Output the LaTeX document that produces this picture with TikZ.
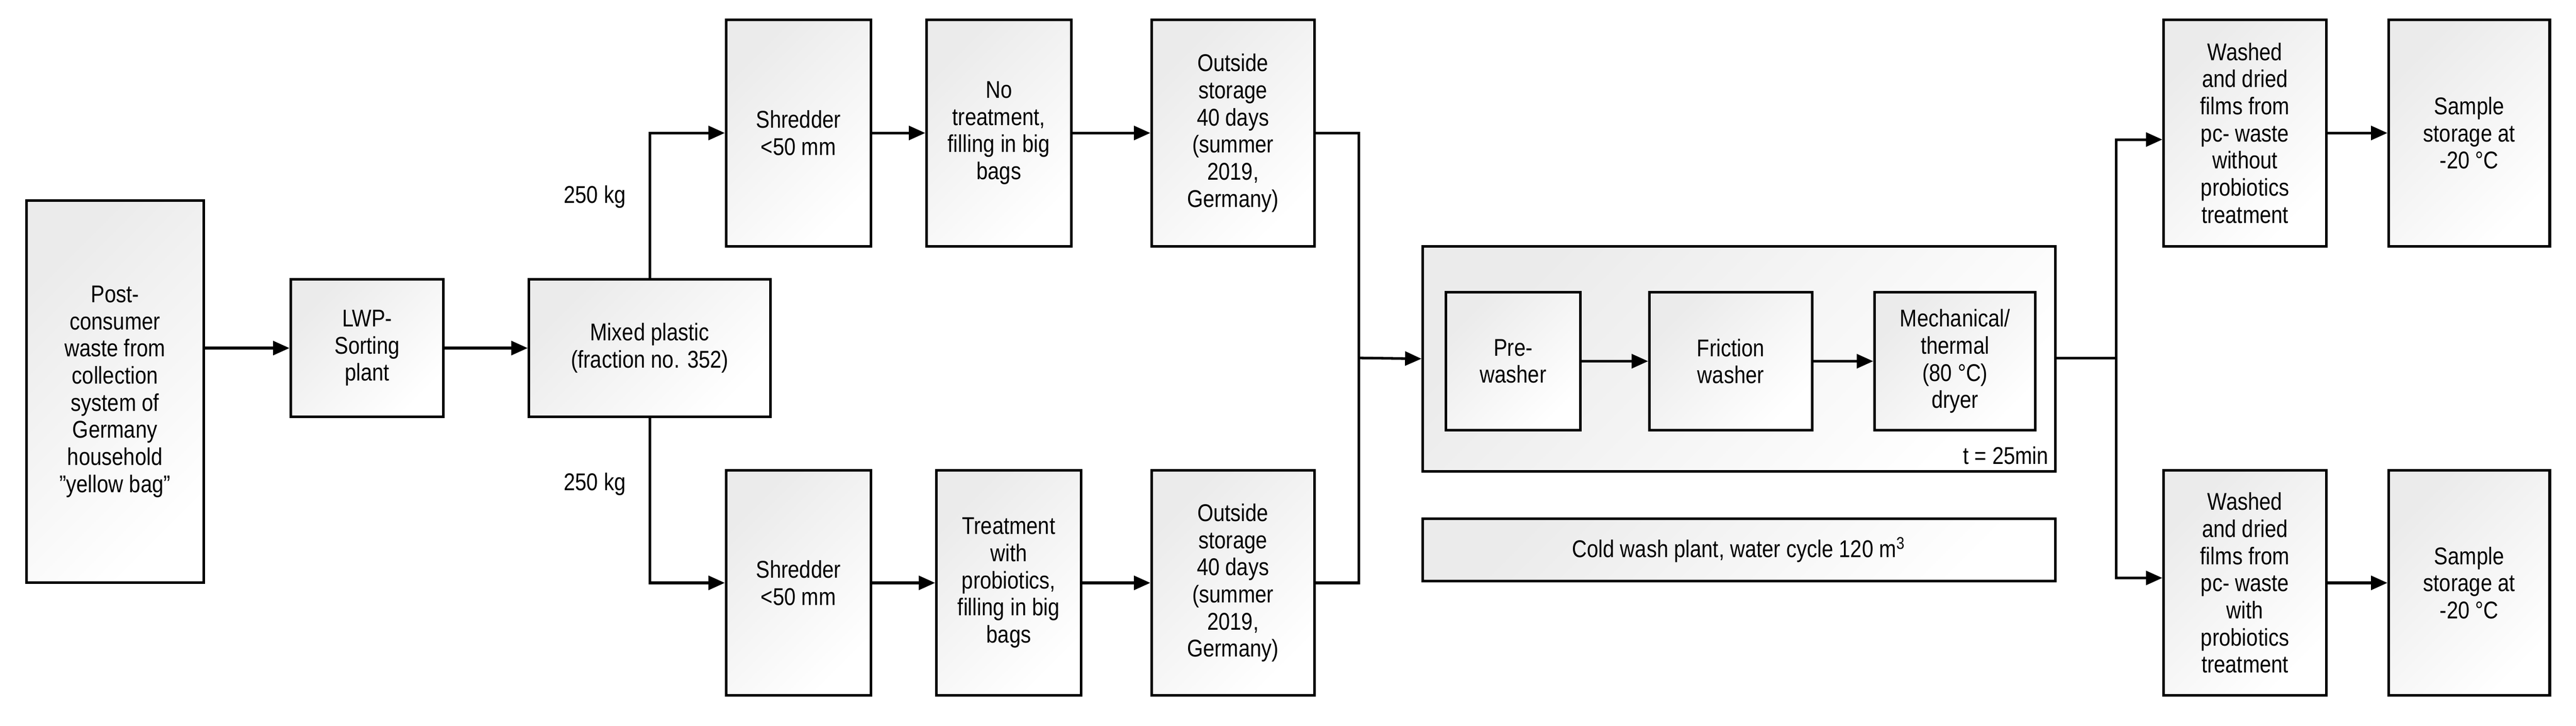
\documentclass[tikz,border=0pt]{standalone}
\usepackage{fontspec}
\setmainfont{Liberation Sans}[FakeStretch=0.85]
\usetikzlibrary{arrows.meta}
\begin{document}
\begin{tikzpicture}[x=0.02cm,y=-0.02cm,
  every node/.style={font=\fontsize{8.4}{9.4}\selectfont, align=center, inner sep=1pt},
  box/.style={draw, line width=0.9pt, top color=black!8, bottom color=white, shading angle=45},
  ln/.style={line width=0.9pt},
  arr/.style={line width=0.9pt, -{Triangle[length=0.2cm,width=0.17cm]}}]
\useasboundingbox (0,0) rectangle (1568,442);
\node[box, minimum width=2.16cm, minimum height=4.66cm] (post) at (70,238.5) {Post-\\consumer\\waste from\\collection\\system of\\Germany\\household\\"yellow  bag"};
\node[box, minimum width=1.86cm, minimum height=1.68cm] (lwp) at (223.5,212) {LWP-\\Sorting\\plant};
\node[box, minimum width=2.94cm, minimum height=1.68cm] (mix) at (395.5,212) {Mixed plastic\\(fraction no. 352)};
\node[box, minimum width=1.76cm, minimum height=2.76cm] (sh1) at (486,81) {Shredder\\<50 mm};
\node[box, minimum width=1.76cm, minimum height=2.76cm] (nt) at (608,81) {No\\treatment,\\filling in big\\bags};
\node[box, minimum width=1.98cm, minimum height=2.76cm] (o1) at (750.5,81) {Outside\\storage\\40 days\\(summer\\2019,\\Germany)};
\node[box, minimum width=1.76cm, minimum height=2.74cm] (sh2) at (486,355) {Shredder\\<50 mm};
\node[box, minimum width=1.76cm, minimum height=2.74cm] (tr) at (614,355) {Treatment\\with\\probiotics,\\filling in big\\bags};
\node[box, minimum width=1.98cm, minimum height=2.74cm] (o2) at (750.5,355) {Outside\\storage\\40 days\\(summer\\2019,\\Germany)};
\node at (362,120) (k1) {250 kg};
\node at (362,295) (k2) {250 kg};
\node[box, minimum width=7.7cm, minimum height=2.74cm] (big) at (1058.5,218.5) {};
\node[box, minimum width=1.64cm, minimum height=1.68cm] (pre) at (921,220) {Pre-\\washer};
\node[box, minimum width=1.98cm, minimum height=1.68cm] (fr) at (1053.5,220) {Friction\\washer};
\node[box, minimum width=1.96cm, minimum height=1.68cm] (me) at (1190,220) {Mechanical/\\thermal\\(80 °C)\\dryer};
\node[anchor=south east] (t) at (1249,285) {t = 25min};
\node[box, minimum width=7.7cm, minimum height=0.76cm] (cold) at (1058.5,335) {Cold wash plant, water cycle 120 m\textsuperscript{3}};
\node[box, minimum width=1.98cm, minimum height=2.76cm] (w1) at (1366.5,81) {Washed\\and dried\\films from\\pc- waste\\without\\probiotics\\treatment};
\node[box, minimum width=1.96cm, minimum height=2.76cm] (s1) at (1503,81) {Sample\\storage at\\-20 °C};
\node[box, minimum width=1.98cm, minimum height=2.74cm] (w2) at (1366.5,355) {Washed\\and dried\\films from\\pc- waste\\with\\probiotics\\treatment};
\node[box, minimum width=1.96cm, minimum height=2.74cm] (s2) at (1503,355) {Sample\\storage at\\-20 °C};
\coordinate (m) at (827,218);
\coordinate (s) at (1288,218);
\draw[arr] (post.east |- lwp.west) -- (lwp.west);
\draw[arr] (lwp.east) -- (mix.west);
\draw[arr] (mix.north) |- (sh1.west);
\draw[arr] (mix.south) |- (sh2.west);
\draw[arr] (sh1) -- (nt);
\draw[arr] (nt) -- (o1);
\draw[arr] (sh2) -- (tr);
\draw[arr] (tr) -- (o2);
\draw[ln] (o1.east) -| (m);
\draw[ln] (o2.east) -| (m);
\draw[arr] (m) -- (big.west);
\draw[arr] (pre) -- (fr);
\draw[arr] (fr) -- (me);
\draw[ln] (big.east |- s) -- (s);
\draw[arr] (s) |- ([yshift=-0.08cm]w1.west);
\draw[arr] (s) |- ([yshift=0.06cm]w2.west);
\draw[arr] (w1) -- (s1);
\draw[arr] (w2) -- (s2);
\end{tikzpicture}
\end{document}
